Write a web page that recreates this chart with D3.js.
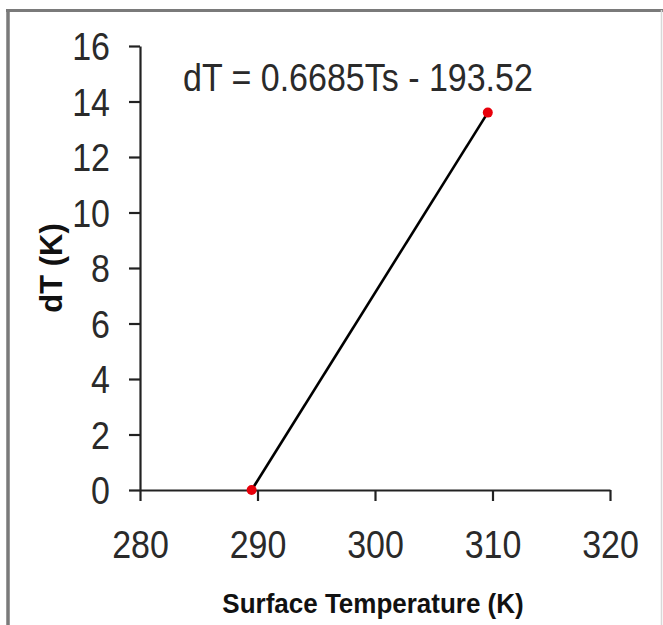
<!DOCTYPE html>
<html><head><meta charset="utf-8">
<script src="https://cdn.jsdelivr.net/npm/d3@7"></script>
<style>
html,body{margin:0;padding:0;background:#fff;}
svg{display:block;}
text{font-family:"Liberation Sans",Arial,sans-serif;}
</style></head>
<body>
<svg id="chart" width="663" height="625"></svg>
<script>
// Data
const surfaceTemp = [289.5, 309.6];
const dTvalues = [0, 13.6];
const xTicks = [280, 290, 300, 310, 320];
const yTicks = [0, 2, 4, 6, 8, 10, 12, 14, 16];
const equationLabel = "dT = 0.6685Ts - 193.52";
const xTitle = "Surface Temperature (K)";
const yTitle = "dT (K)";

(function () {
const svg = d3.select("#chart");
const mLeft = 140, mRight = 610, mTop = 46, mBottom = 490;
const stretch = 1.12;

// Outer border (gray frame)
svg.append("line").attr("x1", 6).attr("x2", 663).attr("y1", 10.5).attr("y2", 10.5)
  .attr("stroke", "#7a7a7a").attr("stroke-width", 3);
svg.append("line").attr("x1", 8).attr("x2", 8).attr("y1", 9).attr("y2", 625)
  .attr("stroke", "#7a7a7a").attr("stroke-width", 3.5);
svg.append("line").attr("x1", 661.5).attr("x2", 661.5).attr("y1", 10).attr("y2", 625)
  .attr("stroke", "#d8d8d8").attr("stroke-width", 1.5);

const x = d3.scaleLinear().domain([280, 320]).range([mLeft, mRight]);
const y = d3.scaleLinear().domain([0, 16]).range([mBottom, mTop]);

// Axes
const gx = svg.append("g").attr("transform", `translate(0,${mBottom})`)
  .call(d3.axisBottom(x).tickValues(xTicks).tickSize(11).tickSizeOuter(0).tickFormat(d3.format("d")));
const gy = svg.append("g").attr("transform", `translate(${mLeft},0)`)
  .call(d3.axisLeft(y).tickValues(yTicks).tickSize(11).tickSizeOuter(0).tickFormat(d3.format("d")));

[gx, gy].forEach(g => {
  g.select(".domain").attr("stroke", "#222").attr("stroke-width", 2.2);
  g.selectAll(".tick line").attr("stroke", "#222").attr("stroke-width", 2.2);
  g.selectAll(".tick text").attr("fill", "#2a2a2a").style("font-size", "34px")
   .style("font-family", '"Liberation Sans", Arial, sans-serif')
   .attr("transform", `scale(1,${stretch})`);
});
gx.selectAll(".tick text").attr("dy", null).attr("y", 68 / stretch);
gy.selectAll(".tick text").attr("x", -30).attr("dy", "0.36em");

// Regression line
const pts = surfaceTemp.map((t, i) => [t, dTvalues[i]]);
svg.append("path").datum(pts)
  .attr("d", d3.line().x(d => x(d[0])).y(d => y(d[1])))
  .attr("fill", "none").attr("stroke", "#000").attr("stroke-width", 2.6);

// Points
svg.selectAll("circle.pt").data(pts).enter().append("circle")
  .attr("class", "pt")
  .attr("cx", d => x(d[0])).attr("cy", d => y(d[1])).attr("r", 5)
  .attr("fill", "#e8000b");

// Equation
svg.append("text").attr("transform", `translate(183,91) scale(1,${stretch})`)
  .style("font-size", "34px").attr("fill", "#2a2a2a").text(equationLabel);

// Axis titles
svg.append("text").attr("transform", `translate(373,613) scale(1,1.06)`).attr("text-anchor", "middle")
  .style("font-size", "26px").style("font-weight", "bold").attr("fill", "#111").text(xTitle);
svg.append("text").attr("transform", `translate(62,268) rotate(-90)`).attr("text-anchor", "middle")
  .style("font-size", "31px").style("font-weight", "bold").attr("fill", "#111").text(yTitle);
})();
</script>
</body></html>
